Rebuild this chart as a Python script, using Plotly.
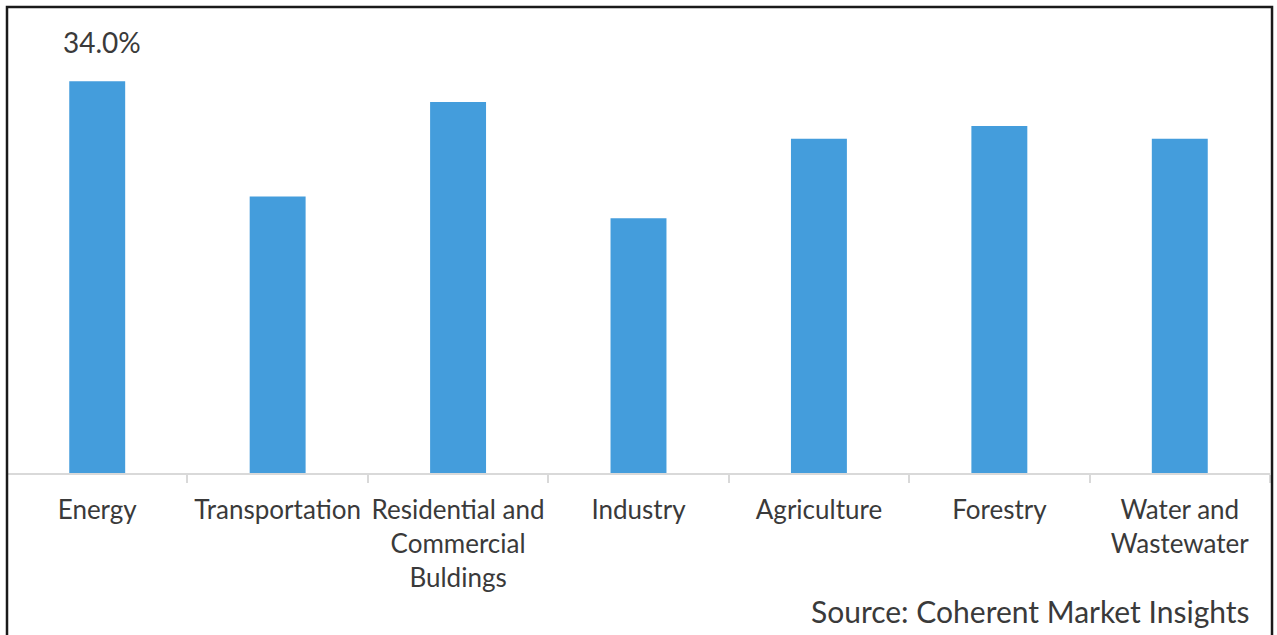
import plotly.graph_objects as go

categories = ["Energy", "Transportation", "Residential and Commercial Buldings",
              "Industry", "Agriculture", "Forestry", "Water and Wastewater"]
tick_labels = ["Energy", "Transportation", "Residential and<br>Commercial<br>Buldings",
               "Industry", "Agriculture", "Forestry", "Water and<br>Wastewater"]
shares = [34.0, 24.0, 32.2, 22.1, 29.0, 30.1, 29.0]
label_text = "34.0%"
source_text = "Source: Coherent Market Insights"

FONT = "Lato, Open Sans, sans-serif"
TXT = "#3a3a3a"

fig = go.Figure()
fig.add_trace(go.Bar(
    x=categories, y=shares,
    marker=dict(color="#449DDC", line=dict(width=0)),
    width=0.31,
    hoverinfo="skip",
))

fig.add_annotation(x=categories[0], y=shares[0], text=label_text, showarrow=False,
                   yanchor="bottom", yshift=20, xshift=5,
                   font=dict(family=FONT, size=28, color=TXT))

fig.add_annotation(xref="paper", yref="paper", x=0.986, y=-0.299, text=source_text,
                   showarrow=False, xanchor="right", yanchor="middle",
                   font=dict(family=FONT, size=30, color=TXT))

# outer frame
fig.add_shape(type="rect", xref="paper", yref="paper", x0=0.0, x1=1.0016,
              y0=-0.40, y1=1.0108, line=dict(color="#1a1a1a", width=2.5),
              fillcolor="rgba(0,0,0,0)", layer="above")

fig.update_layout(
    width=1277, height=635, autosize=False,
    margin=dict(l=7, r=7, t=12, b=162, autoexpand=False),
    paper_bgcolor="white", plot_bgcolor="white",
    showlegend=False,
    font=dict(family=FONT, size=27, color=TXT),
    xaxis=dict(
        tickvals=categories, ticktext=tick_labels,
        tickson="boundaries", ticks="outside", ticklen=8, tickcolor="#d9d9d9", tickwidth=1.5,
        ticklabelstandoff=13, tickangle=0, automargin=False,
        showline=True, linecolor="#d9d9d9", linewidth=2,
        showgrid=False, zeroline=False,
        tickfont=dict(family=FONT, size=26, color=TXT),
        fixedrange=True,
    ),
    yaxis=dict(range=[0, 40], visible=False, showgrid=False, zeroline=False, fixedrange=True),
)

fig.write_html("out.html", config={"displayModeBar": False},
               post_script="document.body.style.margin='0';document.body.style.overflow='hidden';")
